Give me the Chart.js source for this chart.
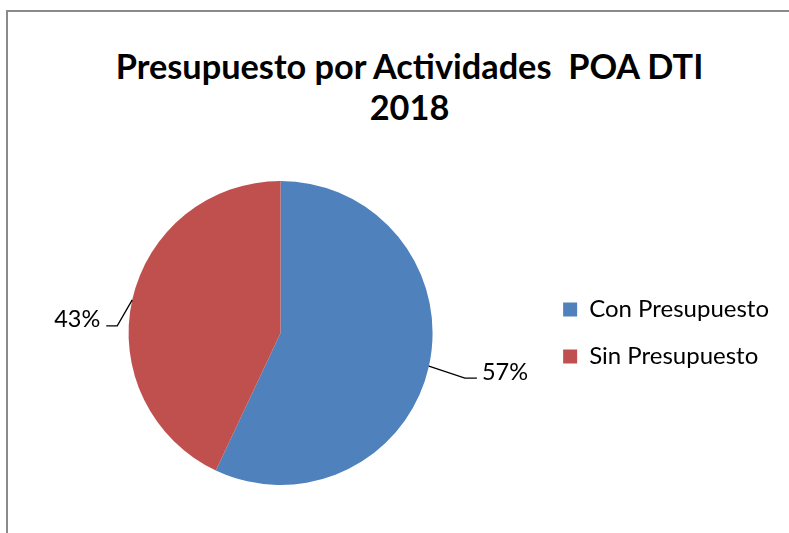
<!DOCTYPE html>
<html>
<head>
<meta charset="utf-8">
<script src="https://cdn.jsdelivr.net/npm/chart.js@4/dist/chart.umd.min.js"></script>
<style>
  html, body { margin: 0; padding: 0; background: #fff; overflow: hidden; }
  #wrap { position: relative; width: 789px; height: 533px; overflow: hidden; }
  #frame { position: absolute; left: 6px; top: 10px; width: 900px; height: 600px;
           border-left: 2px solid #8a8a8a; border-top: 2px solid #8a8a8a; }
  #titulo { position: absolute; left: 0; top: 45px; width: 819px; text-align: center;
            font-family: Lato, sans-serif; font-weight: bold; font-size: 34.3px; line-height: 41px; color: #000; }
  #chart-pie { position: absolute; left: 0; top: 0; }
</style>
</head>
<body>
<div id="wrap">
  <div id="frame"></div>
  <div id="titulo">Presupuesto por Actividades&nbsp; POA DTI<br>2018</div>
  <canvas id="chart-pie" width="789" height="533"></canvas>
</div>
<script>
var categories = ['Con Presupuesto', 'Sin Presupuesto'];
var percentages = [57, 43];
var sliceColors = ['#4F81BD', '#C0504D'];

// leader line: [dx, dy] of the bend, then horizontal run
var leaderBends = [[36, 12, 12], [-15, 26, -11]];

var leaderLabels = {
    id: 'leaderLabels',
    afterDatasetsDraw: function (chart) {
        var ctx = chart.ctx;
        var meta = chart.getDatasetMeta(0);
        ctx.save();
        ctx.strokeStyle = '#000';
        ctx.lineWidth = 1.3;
        ctx.fillStyle = '#000';
        ctx.font = '23.5px Lato, sans-serif';
        ctx.textBaseline = 'middle';
        meta.data.forEach(function (arc, i) {
            var mid = (arc.startAngle + arc.endAngle) / 2;
            var x0 = arc.x + Math.cos(mid) * arc.outerRadius;
            var y0 = arc.y + Math.sin(mid) * arc.outerRadius;
            var b = leaderBends[i];
            var x1 = x0 + b[0], y1 = y0 + b[1];
            var x2 = x1 + b[2];
            ctx.beginPath();
            ctx.moveTo(x0, y0);
            ctx.lineTo(x1, y1);
            ctx.lineTo(x2, y1);
            ctx.stroke();
            var right = b[2] > 0;
            ctx.textAlign = right ? 'left' : 'right';
            ctx.fillText(percentages[i] + '%', right ? x2 + 5 : x2 - 6, y1 - 6);
        });
        ctx.restore();
    }
};

new Chart(document.getElementById('chart-pie').getContext('2d'), {
    type: 'pie',
    data: {
        labels: categories,
        datasets: [{
            data: percentages,
            backgroundColor: sliceColors,
            borderWidth: 0
        }]
    },
    options: {
        responsive: false,
        animation: false,
        layout: { padding: { left: 21, right: 10, top: 181, bottom: 48 } },
        plugins: {
            title: { display: false },
            tooltip: { enabled: false },
            legend: {
                position: 'right',
                labels: {
                    boxWidth: 14,
                    boxHeight: 14,
                    padding: 23,
                    color: '#000',
                    font: { family: 'Lato, sans-serif', size: 24 }
                }
            }
        }
    },
    plugins: [leaderLabels]
});
</script>
</body>
</html>
